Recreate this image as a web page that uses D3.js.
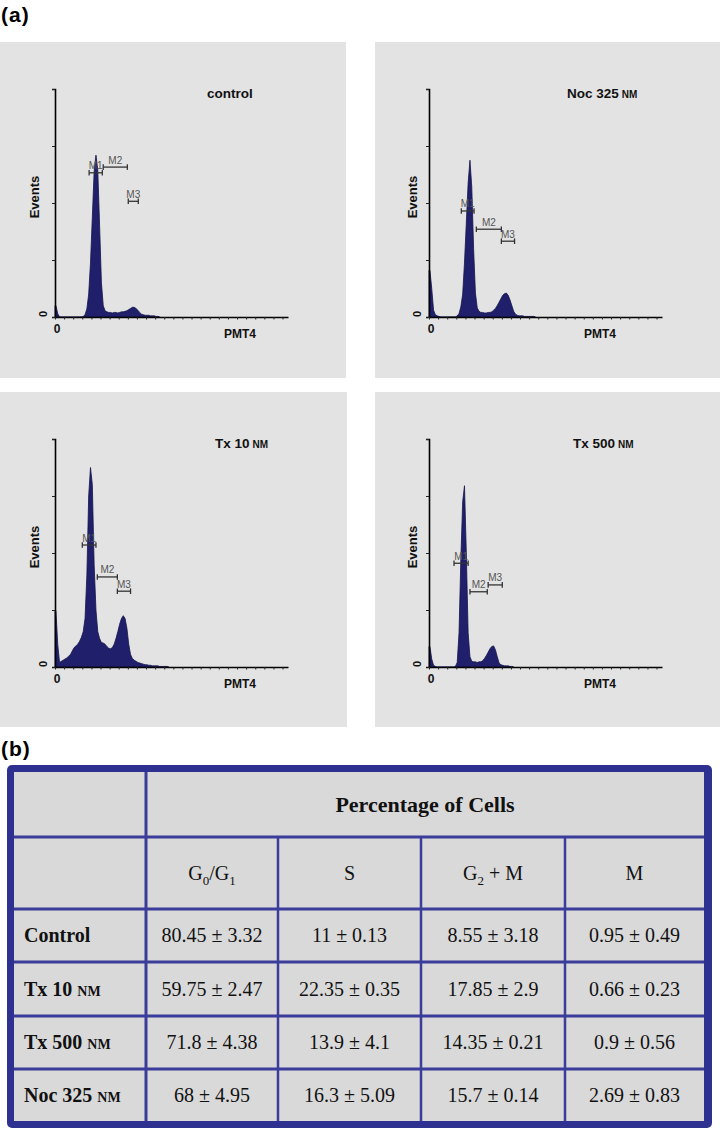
<!DOCTYPE html>
<html><head><meta charset="utf-8">
<script src="https://cdn.jsdelivr.net/npm/d3@7"></script>
<style>body{margin:0;background:#fff}</style>
</head><body>
<svg id="fig" width="720" height="1130" xmlns="http://www.w3.org/2000/svg"></svg>
<script>
// ---------------- DATA ----------------
// histogram: events per bin, each bin = 4 channels (PMT4), starting at channel 0
const binWidth = 4;
const channelMax = 512;
const eventsMax = 400;
const eventsTicks = [0, 100, 200, 300, 400];
const channelTicks = [0,20,40,60,80,100,120,140,160,180,200,220,240,260,280,300,320,340,360,380,400,420,440,460,480,500];

const panelNames = ["control", "Noc 325", "Tx 10", "Tx 500"];
const panelUnits = ["", "nM", "nM", "nM"];

const controlCounts = [20,6,0,0,0,0,0,0,0,0,0,0,0,0,0,1,4,14,40,95,175,255,284,258,160,60,20,11,9,8,8,7,8,8,7,8,9,9,10,11,13,15,17,17,15,12,8,5,4,3,3,3,2,2,2,1,1];
const nocCounts = [82,50,12,4,2,1,0,0,0,0,0,0,0,0,0,2,6,18,40,95,165,235,275,228,120,42,16,10,8,8,7,7,8,8,9,12,15,20,26,32,38,41,42,38,30,20,10,5,3,2,2,2,1,1,1,1,1,1];
const tx10Counts = [99,40,8,10,12,14,16,19,22,28,34,37,40,45,52,62,85,160,300,350,320,180,100,62,50,43,42,40,36,33,32,34,40,50,62,75,85,90,85,68,40,22,15,12,10,8,7,6,5,4,4,3,3,2,2,2,2,1,1,1,1,1];
const tx500Counts = [36,14,3,1,0,0,0,0,0,0,0,0,0,0,1,8,60,190,290,318,200,60,18,10,9,9,8,9,9,11,15,20,26,32,36,37,30,18,7,4,3,2,2,2,1,1];

// region markers (channel start, channel end, events level)
const markerNames = ["M1", "M2", "M3"];
const controlMarkerStart = [75, 106, 161];
const controlMarkerEnd   = [104, 159, 183];
const controlMarkerLevel = [253, 263, 203];
const nocMarkerStart = [71, 104, 159];
const nocMarkerEnd   = [99, 159, 188];
const nocMarkerLevel = [186, 154, 133];
const tx10MarkerStart = [60, 93, 137];
const tx10MarkerEnd   = [90, 137, 166];
const tx10MarkerLevel = [214, 158, 133];
const tx500MarkerStart = [55, 90, 130];
const tx500MarkerEnd   = [86, 128, 161];
const tx500MarkerLevel = [182, 132, 144];

// table (b)
const tableTitle = "Percentage of Cells";
const tableRowNames = ["Control", "Tx 10", "Tx 500", "Noc 325"];
const tableRowUnits = ["", "nM", "nM", "nM"];
const g0g1Mean = [80.45, 59.75, 71.8, 68];
const g0g1SD   = [3.32, 2.47, 4.38, 4.95];
const sMean    = [11, 22.35, 13.9, 16.3];
const sSD      = [0.13, 0.35, 4.1, 5.09];
const g2mMean  = [8.55, 17.85, 14.35, 15.7];
const g2mSD    = [3.18, 2.9, 0.21, 0.14];
const mMean    = [0.95, 0.66, 0.9, 2.69];
const mSD      = [0.49, 0.23, 0.56, 0.83];

// ---------------- LAYOUT ----------------
const svg = d3.select("#fig");
const sans = "'Liberation Sans', Arial, sans-serif";
const serif = "'Liberation Serif', 'Times New Roman', serif";

svg.append("text").attr("x", 1).attr("y", 22).attr("font-family", sans).attr("font-weight", "bold")
  .attr("font-size", 21).attr("letter-spacing", 1).text("(a)");

const panels = [
  {counts: controlCounts, ms: controlMarkerStart, me: controlMarkerEnd, ml: controlMarkerLevel,
   box: {x: 0, y: 42, w: 346, h: 336}, ax: 55, titleX: 207, pmtX: 240, evX: 34},
  {counts: nocCounts, ms: nocMarkerStart, me: nocMarkerEnd, ml: nocMarkerLevel,
   box: {x: 375, y: 42, w: 345, h: 336}, ax: 429, titleX: 567, pmtX: 600, evX: 412},
  {counts: tx10Counts, ms: tx10MarkerStart, me: tx10MarkerEnd, ml: tx10MarkerLevel,
   box: {x: 0, y: 392, w: 347, h: 335}, ax: 55, titleX: 215, pmtX: 240, evX: 34},
  {counts: tx500Counts, ms: tx500MarkerStart, me: tx500MarkerEnd, ml: tx500MarkerLevel,
   box: {x: 375, y: 392, w: 345, h: 335}, ax: 429, titleX: 573, pmtX: 600, evX: 412}
];

panels.forEach((p, k) => {
  const g = svg.append("g");
  const b = p.box;
  g.append("rect").attr("x", b.x).attr("y", b.y).attr("width", b.w).attr("height", b.h).attr("fill", "#e3e3e3");

  const yTop = b.y + 47, yBase = b.y + 275;
  const x = d3.scaleLinear().domain([0, channelMax]).range([p.ax, p.ax + 233]);
  const y = d3.scaleLinear().domain([0, eventsMax]).range([yBase, yTop]);

  // histogram (bin centres joined)
  const pts = [{ch: 0, n: p.counts[0]}].concat(
    p.counts.map((c, i) => ({ch: i * binWidth + binWidth / 2, n: c})));
  pts.push({ch: p.counts.length * binWidth + binWidth / 2, n: 0});
  const area = d3.area().x(d => x(d.ch)).y0(y(0)).y1(d => y(d.n)).curve(d3.curveLinear);
  g.append("path").datum(pts).attr("d", area).attr("fill", "#1f1f6c")
    .attr("stroke", "#14144a").attr("stroke-width", 0.8).attr("stroke-linejoin", "round");

  // axes
  const yAxis = d3.axisLeft(y).tickValues(eventsTicks).tickSize(3).tickFormat("");
  const ya = g.append("g").attr("transform", `translate(${p.ax},0)`).call(yAxis);
  const xAxis = d3.axisBottom(x).tickValues(channelTicks).tickSize(2.5).tickFormat("").tickSizeOuter(0);
  const xa = g.append("g").attr("transform", `translate(0,${yBase})`).call(xAxis);
  [ya, xa].forEach(a => {
    a.select(".domain").attr("stroke", "#000").attr("stroke-width", 1.6);
    a.selectAll(".tick line").attr("stroke", "#222").attr("stroke-width", 1);
  });

  // markers
  markerNames.forEach((m, i) => {
    const x0 = x(p.ms[i]), x1 = x(p.me[i]), yy = y(p.ml[i]);
    g.append("line").attr("x1", x0).attr("x2", x1).attr("y1", yy).attr("y2", yy)
      .attr("stroke", "#333").attr("stroke-width", 1.3);
    [x0, x1].forEach(xx => g.append("line").attr("x1", xx).attr("x2", xx)
      .attr("y1", yy - 2.8).attr("y2", yy + 2.8).attr("stroke", "#333").attr("stroke-width", 1.3));
    g.append("text").attr("x", (x0 + x1) / 2).attr("y", yy - 3.5).attr("text-anchor", "middle")
      .attr("font-family", sans).attr("font-size", 10).attr("fill", "#555").text(m);
  });

  // texts
  const t = g.append("text").attr("x", p.titleX).attr("y", b.y + 56)
    .attr("font-family", sans).attr("font-weight", "bold").attr("font-size", 13.5).attr("fill", "#111")
    .text(panelNames[k]);
  if (panelUnits[k]) t.append("tspan").attr("dx", 3).attr("font-size", 10).text(panelUnits[k].toUpperCase());

  g.append("text").attr("transform", `translate(${p.evX},${b.y + 155}) rotate(-90)`)
    .attr("text-anchor", "middle").attr("dominant-baseline", "central")
    .attr("font-family", sans).attr("font-weight", "bold").attr("font-size", 13).attr("fill", "#111").text("Events");
  g.append("text").attr("transform", `translate(${p.ax - 12},${yBase - 3}) rotate(-90)`)
    .attr("text-anchor", "middle").attr("dominant-baseline", "central")
    .attr("font-family", sans).attr("font-weight", "bold").attr("font-size", 11).attr("fill", "#111").text("0");
  g.append("text").attr("x", p.ax + 2).attr("y", b.y + 291).attr("text-anchor", "middle")
    .attr("font-family", sans).attr("font-weight", "bold").attr("font-size", 12).attr("fill", "#111").text("0");
  g.append("text").attr("x", p.pmtX).attr("y", b.y + 295.5).attr("text-anchor", "middle")
    .attr("font-family", sans).attr("font-weight", "bold").attr("font-size", 12).attr("fill", "#111").text("PMT4");
});

// ---------------- TABLE (b) ----------------
svg.append("text").attr("x", 1).attr("y", 756).attr("font-family", sans).attr("font-weight", "bold")
  .attr("font-size", 21).attr("letter-spacing", 1).text("(b)");

const colEdges = [14, 146, 278, 421, 565, 704];
const rowEdges = [772, 837, 909, 962, 1016, 1069, 1121];
const blue = "#3a3d9a";
const tg = svg.append("g");
tg.append("rect").attr("x", 7).attr("y", 765).attr("width", 705).attr("height", 363).attr("rx", 5)
  .attr("fill", "#2e3190");
tg.append("rect").attr("x", colEdges[0]).attr("y", rowEdges[0])
  .attr("width", colEdges[5] - colEdges[0]).attr("height", rowEdges[6] - rowEdges[0]).attr("fill", "#d9d9d9");
rowEdges.slice(1, 6).forEach(yy => tg.append("line").attr("x1", colEdges[0]).attr("x2", colEdges[5])
  .attr("y1", yy).attr("y2", yy).attr("stroke", blue).attr("stroke-width", 3));
tg.append("line").attr("x1", colEdges[1]).attr("x2", colEdges[1]).attr("y1", rowEdges[0]).attr("y2", rowEdges[6])
  .attr("stroke", blue).attr("stroke-width", 3);
colEdges.slice(2, 5).forEach(xx => tg.append("line").attr("x1", xx).attr("x2", xx)
  .attr("y1", rowEdges[1]).attr("y2", rowEdges[6]).attr("stroke", blue).attr("stroke-width", 2.5));

const colCenter = i => (colEdges[i] + colEdges[i + 1]) / 2;
const rowCenter = i => (rowEdges[i] + rowEdges[i + 1]) / 2;

tg.append("text").attr("x", (colEdges[1] + colEdges[5]) / 2).attr("y", rowCenter(0) + 7.5)
  .attr("text-anchor", "middle").attr("font-family", serif).attr("font-weight", "bold")
  .attr("font-size", 22).attr("fill", "#111").text(tableTitle);

// column heads with subscripts
const heads = [
  [["G", 0], ["0", 1], ["/G", 0], ["1", 1]],
  [["S", 0]],
  [["G", 0], ["2", 1], [" + M", 0]],
  [["M", 0]]
];
heads.forEach((parts, c) => {
  const t = tg.append("text").attr("x", colCenter(c + 1)).attr("y", rowCenter(1) + 7)
    .attr("text-anchor", "middle").attr("font-family", serif).attr("font-size", 20).attr("fill", "#111");
  let sub = false;
  parts.forEach(([s, isSub]) => {
    const ts = t.append("tspan").text(s);
    if (isSub && !sub) { ts.attr("dy", 5).attr("font-size", 13); sub = true; }
    else if (isSub) { ts.attr("font-size", 13); }
    else if (!isSub && sub) { ts.attr("dy", -5); sub = false; }
  });
});

const meansSD = [[g0g1Mean, g0g1SD], [sMean, sSD], [g2mMean, g2mSD], [mMean, mSD]];
tableRowNames.forEach((name, r) => {
  const yy = rowCenter(r + 2) + 6.5;
  const t = tg.append("text").attr("x", 24).attr("y", yy).attr("font-family", serif)
    .attr("font-weight", "bold").attr("font-size", 20).attr("fill", "#111").text(name);
  if (tableRowUnits[r]) t.append("tspan").attr("dx", 5).attr("font-size", 14).text(tableRowUnits[r].toUpperCase());
  meansSD.forEach(([mean, sd], c) => {
    tg.append("text").attr("x", colCenter(c + 1)).attr("y", yy).attr("text-anchor", "middle")
      .attr("font-family", serif).attr("font-size", 20).attr("fill", "#111")
      .text(`${mean[r]} ± ${sd[r]}`);
  });
});
</script>
</body></html>
